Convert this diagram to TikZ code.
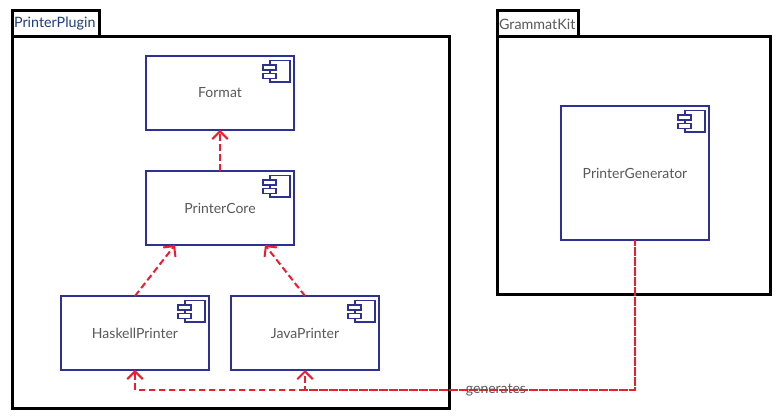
\documentclass[tikz,border=0pt]{standalone}
\usepackage{fontspec}
\setmainfont{Lato}
\usetikzlibrary{arrows.meta}
\definecolor{compblue}{HTML}{2E3192}
\definecolor{depred}{HTML}{ED1C2E}
\definecolor{txtgrey}{HTML}{595959}
\definecolor{navytxt}{HTML}{1F3F77}
\tikzset{
  x=1pt,y=-1pt,
  pkgbody/.style={draw=black,line width=3pt,fill=white,rectangle,inner sep=0pt,outer sep=0pt,anchor=north west},
  pkgtab/.style={pkgbody,font=\fontsize{14.3}{16}\selectfont,align=left},
  comp/.style={draw=compblue,line width=1.7pt,fill=white,rectangle,inner sep=0pt,outer sep=0pt,
    minimum width=148pt,text=txtgrey,font=\fontsize{14}{16}\selectfont},
  icon/.style={draw=compblue,line width=1.6pt,fill=white},
  dep/.style={draw=depred,line width=2pt,dash pattern=on 6.5pt off 3.5pt},
  depa/.style={dep,-{Straight Barb[length=7pt,width=16pt,line width=2pt,angle=90:11pt]}},
}
\newcommand{\compicon}[1]{%
  \draw[icon] ([xshift=-24.3pt,yshift=-4.7pt]#1.north east) rectangle ([xshift=-4pt,yshift=-26pt]#1.north east);
  \draw[icon] ([xshift=-31pt,yshift=-9pt]#1.north east) rectangle ([xshift=-18pt,yshift=-14pt]#1.north east);
  \draw[icon] ([xshift=-31pt,yshift=-17.5pt]#1.north east) rectangle ([xshift=-18pt,yshift=-22.5pt]#1.north east);
}
\begin{document}
\begin{tikzpicture}
\useasboundingbox (0,0) rectangle (780,419);
% packages
\node[pkgtab,minimum width=87pt,minimum height=26pt,text=navytxt] (pptab) at (12,11) {\hspace{-1.5pt}PrinterPlugin\hspace{0pt}};
\node[pkgbody,minimum width=437pt,minimum height=371.5pt] (ppbody) at (12,37) {};
\node[pkgtab,minimum width=81pt,minimum height=26pt,text=txtgrey] (gktab) at (497,11) {\hspace{-0.5pt}GrammatKit};
\node[pkgbody,minimum width=273pt,minimum height=257.5pt] (gkbody) at (497,37) {};
% components
\node[comp,minimum height=74pt] (format) at (220,93) {Format};
\node[comp,minimum height=74pt] (core) at (220,208) {PrinterCore};
\node[comp,minimum height=74pt] (haskell) at (135,333) {HaskellPrinter};
\node[comp,minimum height=74pt] (java) at (305,333) {JavaPrinter};
\node[comp,minimum height=134pt] (gen) at (635,173) {PrinterGenerator};
\compicon{format}\compicon{core}\compicon{haskell}\compicon{java}\compicon{gen}
% connectors
\coordinate (coreh) at ([xshift=-45pt]core.south);
\coordinate (corej) at ([xshift=45pt]core.south);
\coordinate (corner) at (gen.south |- 0,390);
\coordinate (branch) at (java.south |- 0,390);
\coordinate (hcorner) at (haskell.south |- 0,390);
\draw[depa] (core.north) -- (format.south);
\draw[depa] (haskell.north) -- (coreh);
\draw[depa] (java.north) -- (corej);
\draw[depa] (gen.south) -- (corner) -- (hcorner) -- (haskell.south);
\draw[depa,dash phase=2.8pt] (gen.south) -- (corner) -- (branch) -- (java.south);
\node[inner sep=0pt,text=txtgrey,font=\fontsize{14}{16}\selectfont] (lbl) at (496,390.5) {generates};
\end{tikzpicture}
\end{document}
